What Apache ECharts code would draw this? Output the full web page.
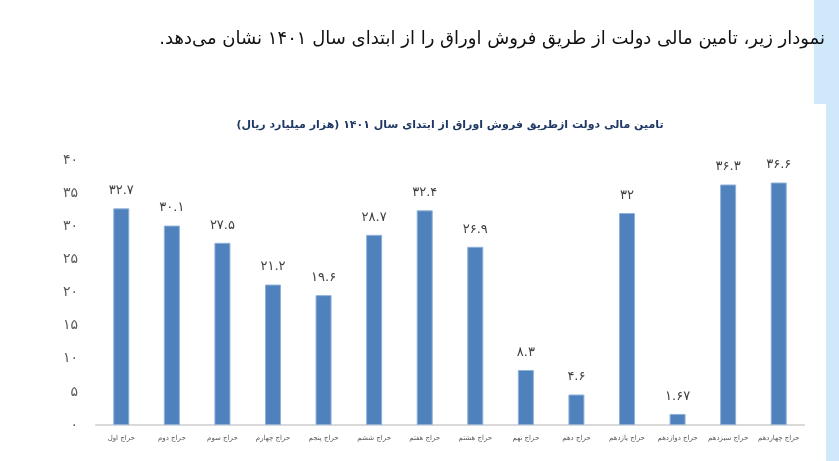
<!DOCTYPE html>
<html>
<head>
<meta charset="utf-8">
<script src="https://cdn.jsdelivr.net/npm/echarts@6/dist/echarts.min.js"></script>
<style>html,body{margin:0;padding:0;background:#fff}#c{width:839px;height:461px}</style>
</head>
<body>
<div id="c"></div>
<script>
const categories = ['حراج اول','حراج دوم','حراج سوم','حراج چهارم','حراج پنجم','حراج ششم','حراج هفتم','حراج هشتم','حراج نهم','حراج دهم','حراج یازدهم','حراج دوازدهم','حراج سیزدهم','حراج چهاردهم'];
const values = [32.7, 30.1, 27.5, 21.2, 19.6, 28.7, 32.4, 26.9, 8.3, 4.6, 32, 1.67, 36.3, 36.6];
const yTicks = [0, 5, 10, 15, 20, 25, 30, 35, 40];
const headline = 'نمودار زیر، تامین مالی دولت از طریق فروش اوراق را از ابتدای سال ۱۴۰۱ نشان می‌دهد.';
const chartTitle = 'تامین مالی دولت ازطریق فروش اوراق از ابتدای سال ۱۴۰۱ (هزار میلیارد ریال)';

const RLM = '\u200F';
function fa(n) {
  return String(n).replace(/[0-9]/g, d => '۰۱۲۳۴۵۶۷۸۹'[+d]);
}
const FONT = 'DejaVu Sans';

const chart = echarts.init(document.getElementById('c'), null, {renderer: 'canvas'});
chart.setOption({
  animation: false,
  backgroundColor: '#ffffff',
  textStyle: {fontFamily: FONT},
  title: {
    text: RLM + chartTitle + RLM,
    left: 445, top: 115, textAlign: 'center',
    textStyle: {fontFamily: FONT, fontSize: 11, fontWeight: 'bold', color: '#1f3864'}
  },
  graphic: [
    {type: 'rect', shape: {x: 814, y: 0, width: 25, height: 104}, style: {fill: '#cfe9fb'}, silent: true},
    {type: 'rect', shape: {x: 826, y: 104, width: 13, height: 357}, style: {fill: '#cfe9fb'}, silent: true},
    {type: 'text', right: 839 - 825, top: 30,
     style: {text: RLM + headline + RLM, font: '18px "DejaVu Sans"', fill: '#111111', textAlign: 'right'}}
  ],
  grid: {left: 96, right: 35, top: 160, bottom: 36, containLabel: false},
  xAxis: {
    type: 'category', data: categories,
    axisLine: {lineStyle: {color: '#d9d9d9', width: 2}},
    axisTick: {show: false},
    axisLabel: {fontSize: 7, color: '#595959', margin: 10, interval: 0, fontFamily: FONT}
  },
  yAxis: {
    type: 'value', min: yTicks[0], max: yTicks[yTicks.length - 1], interval: 5,
    splitLine: {show: false}, axisLine: {show: false}, axisTick: {show: false},
    axisLabel: {fontSize: 14, color: '#595959', margin: 18, fontFamily: FONT, formatter: v => fa(v)}
  },
  series: [{
    type: 'bar', data: values, barWidth: 16,
    itemStyle: {color: '#4f81bd', borderColor: '#8eb0d9', borderWidth: 1},
    label: {show: true, position: 'top', distance: 11, fontSize: 13, color: '#404040', fontFamily: FONT,
      formatter: p => fa(p.value)}
  }]
});
</script>
</body>
</html>
